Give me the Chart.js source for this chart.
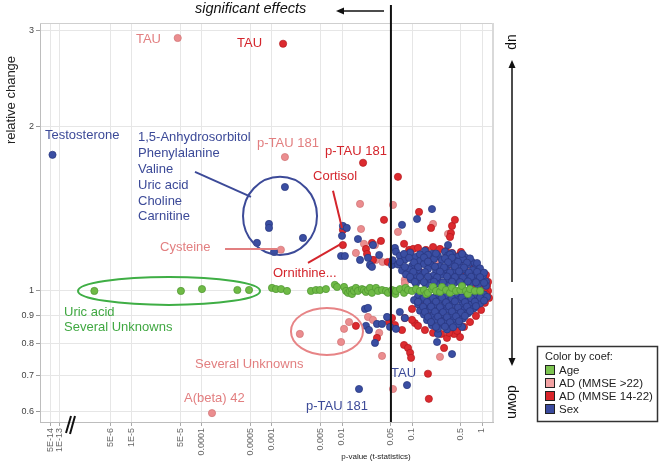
<!DOCTYPE html>
<html><head><meta charset="utf-8">
<script src="https://cdn.jsdelivr.net/npm/chart.js@4.4.1/dist/chart.umd.min.js"></script>
<style>html,body{margin:0;padding:0;background:#fff;overflow:hidden}#wrap{width:661px;height:465px;position:relative}</style>
</head><body><div id="wrap"><canvas id="c" width="661" height="465"></canvas></div>
<script>
// ---------- data ----------
const xTickValues = [5e-14,1e-13,5e-6,1e-5,5e-5,1e-4,5e-4,1e-3,5e-3,0.01,0.05,0.1,0.5,1];
const xTickLabels = ['5E-14','1E-13','5E-6','1E-5','5E-5','0.0001','0.0005','0.001','0.005','0.01','0.05','0.1','0.5','1'];
const yTickValues = [0.6,0.7,0.8,0.9,1,2,3];
const seriesNames = ['Age','AD (MMSE >22)','AD (MMSE 14-22)','Sex'];

// [p-value, relative change]
const agePoints = [
[2.9e-6,1.0],[5.0e-5,1.0],[1.0e-4,1.008],[3.2e-4,1.004],[4.7e-4,1.004],[1.0e-3,1.013],[1.14e-3,1.008],[1.35e-3,1.008],[1.64e-3,1.0],[3.6e-3,1.0],[4.25e-3,1.004],[4.85e-3,1.004],[5.9e-3,1.008],[7.9e-3,1.026],[8.5e-3,1.017],[0.0107,1.017],[0.0114,1.0],[0.0122,0.992],[0.013,1.0],[0.0139,1.004],[0.0139,0.987],[0.0148,1.0],[0.0158,1.013],[0.0169,1.0],[0.0193,1.008],[0.0206,1.004],[0.022,0.996],[0.0235,1.004],[0.0251,1.013],[0.0268,0.992],[0.0306,1.013],[0.0327,1.0],[0.0373,1.004],[0.0425,1.0],[0.0454,0.992],[0.0518,1.004],[0.058,0.987],[0.059,1.0],[0.0674,1.008],[0.0769,0.992],[0.081,1.013],[0.0877,1.004],[0.1,1.0],[0.114,1.008],[0.13,1.0],[0.148,1.004],[0.16,0.987],[0.169,0.992],[0.193,1.008],[0.2,1.017],[0.22,1.0],[0.251,0.996],[0.268,1.017],[0.306,1.004],[0.349,0.992],[0.373,1.013],[0.425,1.0],[0.49,1.004],[0.518,1.021],[0.59,1.0],[0.63,0.987],[0.674,1.008],[0.79,1.0],[0.94,1.0]
];
const adMildPoints = [
[4.5e-5,2.91],[0.00153,1.76],[0.00134,1.19],[1.39e-4,0.597],
[0.0025,0.834],[0.0107,0.852],[0.0126,0.877],[0.0097,0.806],
[0.0181,1.444],[0.0535,1.438],[0.0187,1.299],[0.063,1.283],[0.20,1.327],[0.327,1.272],[0.0158,1.174],[0.0206,1.22],[0.0296,1.214],[0.0306,1.14],[0.0235,0.896],[0.0277,0.885],[0.034,0.838],[0.0373,0.76],[0.0535,0.661],[0.251,0.757],
[0.153,1.155],[0.22,1.13],[0.338,1.116],[0.59,1.093],[0.82,1.057],[0.936,0.963],[0.72,0.923],[0.485,0.885],[0.296,0.866],[0.181,0.892],[0.134,0.943],[0.079,1.048],[0.11,1.13],[0.454,1.13],[1.0,1.017],[0.038,1.13],[0.079,1.034],
[0.181,1.164],[0.535,1.102],[0.251,0.892],[0.674,0.939]
];
const adModPoints = [
[1.44e-3,2.84],[0.02,1.718],[0.0103,1.294],[0.0103,1.214],
[0.0158,0.863],[0.022,1.194],[0.0228,1.169],[0.0277,1.14],[0.036,1.235],[0.0268,1.225],[0.047,0.877],[0.0316,0.82],[0.045,1.13],
[0.063,1.619],[0.0398,1.35],[0.126,1.396],[0.187,1.305],[0.36,1.277],[0.373,1.316],[0.41,1.35],[0.077,1.22],[0.091,1.189],[0.104,1.194],[0.349,1.256],[0.50,1.179],
[0.10,0.927],[0.079,0.892],[0.11,0.873],[0.0518,0.892],[0.057,0.866],[0.072,0.848],[0.077,0.796],[0.0877,0.786],[0.094,0.77],[0.097,0.754],[0.169,0.705],[0.174,0.634],[0.287,0.786],[0.316,0.82],[0.386,0.855],[0.44,0.841],[0.485,0.823],[0.398,0.834],
[0.094,1.179],[0.122,1.199],[0.158,1.189],[0.20,1.204],[0.251,1.194],[0.306,1.184],[0.373,1.174],[0.454,1.159],[0.553,1.145],[0.65,1.13],[0.769,1.111],[0.91,1.084],[1.03,1.057],[1.18,1.021],[1.22,1.0],[1.18,0.979],
[1.10,0.951],[0.97,0.923],[0.82,0.90],[0.674,0.877],[0.553,0.859],[0.44,0.845],[0.338,0.838],[0.26,0.834],[0.20,0.838],[0.153,0.848],[0.122,0.863],[0.10,0.885],
[0.181,1.13],[0.296,1.093],[0.485,1.039],[0.674,0.963],[0.41,0.892],[0.235,0.963],[0.306,1.15],[0.22,1.061],[0.13,1.084],[0.169,0.931],
[0.114,1.13],[0.228,1.164],[0.41,1.116],[0.59,1.07],[0.79,1.026],[0.877,0.963],[0.518,0.915],[0.327,0.877],[0.193,0.90],[0.134,0.963],[1.14,0.987],[1.10,1.013],[1.14,1.07],[1.22,1.039],[1.26,0.971]
];
const sexPoints = [
[6e-14,1.777],[0.00153,1.551],[9.06e-4,1.327],[9.06e-4,1.305],[6.1e-4,1.225],[1.07e-3,1.179],[2.77e-3,1.251],[0.0175,0.661],[0.0848,0.672],
[0.0103,1.316],[0.0117,1.305],[0.010,1.262],[0.0097,1.159],[0.011,1.159],[0.0169,1.245],[0.0181,1.14],[0.0235,1.15],[0.0251,1.116],[0.0268,1.107],[0.034,1.164],[0.0277,1.214],[0.0213,0.927],[0.0235,0.931],[0.022,0.863],[0.0243,0.848],[0.0316,0.870],[0.0373,0.870],[0.044,0.896],[0.0296,0.803],[0.072,1.322],[0.118,1.355],[0.193,1.413],[0.327,1.214],[0.535,1.164],[0.057,1.199],[0.0518,1.116],[0.228,0.806],[0.235,0.834],[0.373,0.766],[0.518,0.859],[0.067,0.915],[0.0485,0.859],[0.059,0.852],[0.079,0.892],
[0.059,1.18],[0.094,1.175],[0.153,1.185],[0.193,1.17],[0.296,1.18],[0.373,1.172],
[0.067,1.16],[0.114,1.155],[0.169,1.165],[0.235,1.158],[0.327,1.162],[0.454,1.155],[0.59,1.15],
[0.053,1.138],[0.079,1.142],[0.13,1.135],[0.206,1.145],[0.268,1.14],[0.41,1.136],[0.535,1.143],[0.72,1.13],
[0.063,1.118],[0.10,1.112],[0.148,1.12],[0.187,1.115],[0.251,1.11],[0.349,1.12],[0.485,1.113],[0.63,1.118],[0.82,1.105],
[0.072,1.09],[0.091,1.096],[0.122,1.092],[0.169,1.097],[0.22,1.09],[0.306,1.094],[0.398,1.089],[0.553,1.095],[0.74,1.092],[0.936,1.085],
[0.082,1.072],[0.11,1.068],[0.144,1.073],[0.20,1.066],[0.268,1.071],[0.36,1.069],[0.47,1.074],[0.61,1.067],[0.82,1.07],[1.03,1.065],
[0.097,1.05],[0.13,1.046],[0.181,1.049],[0.235,1.045],[0.327,1.05],[0.425,1.047],[0.57,1.044],[0.72,1.05],[0.936,1.046],[1.14,1.04],
[0.114,1.032],[0.158,1.028],[0.22,1.031],[0.296,1.027],[0.398,1.033],[0.518,1.029],[0.674,1.031],[0.877,1.026],[1.14,1.022],
[0.077,1.169],[0.13,1.167],[0.22,1.171],[0.349,1.166],[0.518,1.169],
[0.091,1.15],[0.148,1.152],[0.296,1.148],[0.373,1.151],[0.674,1.147],
[0.067,1.13],[0.107,1.128],[0.169,1.132],[0.327,1.129],[0.454,1.131],[0.61,1.127],[0.85,1.125],
[0.079,1.107],[0.122,1.106],[0.213,1.108],[0.287,1.105],[0.41,1.109],[0.553,1.104],[0.936,1.1],
[0.104,1.084],[0.153,1.083],[0.251,1.085],[0.349,1.082],[0.47,1.086],[0.65,1.081],[0.85,1.084],[1.07,1.08],
[0.094,1.061],[0.13,1.06],[0.169,1.062],[0.228,1.059],[0.316,1.063],[0.41,1.06],[0.535,1.058],[0.70,1.062],[0.936,1.06],
[0.11,1.039],[0.148,1.038],[0.206,1.04],[0.277,1.037],[0.373,1.04],[0.485,1.038],[0.63,1.041],[0.82,1.037],[1.07,1.035],
[0.122,0.978],[0.169,0.981],[0.22,0.977],[0.306,0.98],[0.44,0.976],[0.59,0.98],[0.79,0.977],[1.07,0.985],
[0.107,0.962],[0.139,0.965],[0.187,0.96],[0.251,0.964],[0.349,0.961],[0.485,0.966],[0.674,0.96],[0.91,0.964],[1.18,0.975],
[0.122,0.945],[0.164,0.94],[0.213,0.944],[0.287,0.941],[0.386,0.946],[0.518,0.942],[0.70,0.944],[0.936,0.948],
[0.13,0.92],[0.181,0.925],[0.243,0.921],[0.316,0.924],[0.425,0.92],[0.57,0.926],[0.769,0.93],
[0.148,0.905],[0.20,0.902],[0.268,0.906],[0.36,0.901],[0.485,0.905],[0.63,0.91],
[0.164,0.884],[0.22,0.887],[0.296,0.883],[0.398,0.886],[0.535,0.89],
[0.193,0.865],[0.26,0.868],[0.349,0.864],[0.454,0.87],
[0.235,0.853],[0.316,0.85],
[0.148,0.971],[0.20,0.97],[0.268,0.972],[0.373,0.969],[0.518,0.973],[0.70,0.97],[0.936,0.972],
[0.122,0.955],[0.164,0.954],[0.22,0.956],[0.306,0.953],[0.41,0.957],[0.57,0.954],[0.79,0.956],[1.07,0.96],
[0.144,0.935],[0.187,0.936],[0.251,0.934],[0.338,0.937],[0.454,0.933],[0.61,0.936],[0.82,0.938],
[0.153,0.915],[0.213,0.916],[0.277,0.914],[0.373,0.917],[0.50,0.913],[0.674,0.918],
[0.169,0.896],[0.235,0.897],[0.316,0.895],[0.425,0.898],[0.57,0.9],
[0.187,0.877],[0.26,0.878],[0.349,0.876],[0.47,0.88],
[0.22,0.859],[0.296,0.86],[0.386,0.858]
];

// ---------- styling / helpers ----------
const FONT = '"Liberation Sans", Arial, sans-serif';
Chart.defaults.font.family = FONT;
const C = {
  age:  {fill:'#6fba46', edge:'#4d9530', text:'#40a842', key:'#7cc350'},
  mild: {fill:'#eb8d8f', edge:'#d07274', text:'#e27f80', key:'#f2a2a3'},
  mod:  {fill:'#dc2a2f', edge:'#b3181d', text:'#d4252c', key:'#d9242a'},
  sex:  {fill:'#3a4ea2', edge:'#26357c', text:'#3c4a98', key:'#3a4a9e'}
};
// position transform for the broken log axis
function tx(p){ const l = Math.log10(p); return l < -12 ? -6.04 + (l + 13) * 0.43 : l; }
function toXY(arr){ return arr.map(([p, r]) => ({x: tx(p), y: r})); }

function ds(label, pts, c, order){
  return {label, data: toXY(pts), backgroundColor: c.fill, borderColor: c.edge,
    borderWidth: 0.7, pointRadius: 3.6, pointHoverRadius: 3.6, order};
}

// annotation anchors in axis units (t = log10 p, r = relative change)
const notes = [
  {lines:['TAU'], c:C.mild.text, t:-4.943, r:2.888},
  {lines:['TAU'], c:C.mod.text, t:-3.5, r:2.84},
  {lines:['Testosterone'], c:C.sex.text, t:-6.243, r:1.925},
  {lines:['1,5-Anhydrosorbitol','Phenylalanine','Valine','Uric acid','Choline','Carnitine'], c:C.sex.text, t:-4.914, r:1.909},
  {lines:['p-TAU 181'], c:C.mild.text, t:-3.214, r:1.862},
  {lines:['p-TAU 181'], c:C.mod.text, t:-2.243, r:1.806},
  {lines:['Cortisol'], c:C.mod.text, t:-2.414, r:1.619},
  {lines:['Cysteine'], c:C.mild.text, t:-4.6, r:1.204},
  {lines:['Ornithine...'], c:C.mod.text, t:-2.986, r:1.079},
  {lines:['Uric acid','Several Unknowns'], c:C.age.text, t:-5.971, r:0.915},
  {lines:['Several Unknowns'], c:C.mild.text, t:-4.1, r:0.732},
  {lines:['A(beta) 42'], c:C.mild.text, t:-4.257, r:0.634},
  {lines:['TAU'], c:C.sex.text, t:-1.3, r:0.707},
  {lines:['p-TAU 181'], c:C.sex.text, t:-2.514, r:0.615}
];
const leaders = [
  {c:C.sex.text, t1:-4.1, r1:1.653, t2:-3.3, r2:1.488},
  {c:C.mod.text, t1:-2.129, r1:1.526, t2:-2.0, r2:1.305},
  {c:C.mild.text, t1:-3.671, r1:1.194, t2:-2.929, r2:1.194},
  {c:C.mod.text, t1:-2.486, r1:1.126, t2:-2.014, r2:1.22}
];
const rings = [
  {c:C.sex.text, t1:-3.414, t2:-2.357, r1:1.619, r2:1.164},
  {c:'#3fae45', t1:-5.771, t2:-3.171, r1:1.061, r2:0.9426},
  {c:'#e78486', t1:-2.729, t2:-1.7, r1:0.931, r2:0.763}
];

function arrow(ctx, x1, y1, x2, y2, head, half){
  const a = Math.atan2(y2 - y1, x2 - x1);
  const bx = x2 - head * Math.cos(a), by = y2 - head * Math.sin(a);
  ctx.beginPath(); ctx.moveTo(x1, y1); ctx.lineTo(bx, by); ctx.stroke();
  ctx.beginPath(); ctx.moveTo(x2, y2);
  ctx.lineTo(bx + half * Math.sin(a), by - half * Math.cos(a));
  ctx.lineTo(bx - half * Math.sin(a), by + half * Math.cos(a));
  ctx.closePath(); ctx.fill();
}

const decor = {
  id: 'decor',
  beforeDatasetsDraw(chart){
    const {ctx, chartArea: a} = chart;
    ctx.save();
    ctx.strokeStyle = '#cfcfcf'; ctx.lineWidth = 1;
    ctx.beginPath(); ctx.moveTo(a.left, a.top + 0.5); ctx.lineTo(a.right, a.top + 0.5); ctx.stroke();
    ctx.strokeStyle = '#d9d9d9'; ctx.lineWidth = 2;
    ctx.beginPath(); ctx.moveTo(a.right, a.top); ctx.lineTo(a.right, a.bottom); ctx.stroke();
    ctx.restore();
  },
  afterDatasetsDraw(chart){
    const {ctx, chartArea: a, scales: {x, y}} = chart;
    const X = t => x.getPixelForValue(t), Y = r => y.getPixelForValue(r);
    ctx.save();
    rings.forEach(e => {
      const x1 = X(e.t1), x2 = X(e.t2), y1 = Y(e.r1), y2 = Y(e.r2);
      ctx.strokeStyle = e.c; ctx.lineWidth = 2;
      ctx.beginPath();
      ctx.ellipse((x1 + x2) / 2, (y1 + y2) / 2, Math.abs(x2 - x1) / 2, Math.abs(y2 - y1) / 2, 0, 0, Math.PI * 2);
      ctx.stroke();
    });
    leaders.forEach(l => {
      ctx.strokeStyle = l.c; ctx.lineWidth = 2;
      ctx.beginPath(); ctx.moveTo(X(l.t1), Y(l.r1)); ctx.lineTo(X(l.t2), Y(l.r2)); ctx.stroke();
    });
    ctx.font = '13px ' + FONT; ctx.textBaseline = 'middle'; ctx.textAlign = 'left';
    notes.forEach(n => {
      ctx.fillStyle = n.c;
      n.lines.forEach((s, i) => ctx.fillText(s, X(n.t), Y(n.r) + i * 15.8));
    });
    const xs = X(tx(0.05));
    ctx.strokeStyle = '#111'; ctx.lineWidth = 2;
    ctx.beginPath(); ctx.moveTo(xs, 5); ctx.lineTo(xs, a.bottom); ctx.stroke();
    ctx.restore();
  },
  afterDraw(chart){
    const {ctx} = chart;
    ctx.save();
    ctx.strokeStyle = '#111'; ctx.lineWidth = 2;
    ctx.beginPath(); ctx.moveTo(66, 433); ctx.lineTo(71, 416); ctx.stroke();
    ctx.beginPath(); ctx.moveTo(70, 434); ctx.lineTo(75, 416); ctx.stroke();
    ctx.fillStyle = '#222';
    ctx.font = '8px ' + FONT; ctx.textAlign = 'center'; ctx.textBaseline = 'middle';
    ctx.fillText('p-value (t-statistics)', 376, 457);
    ctx.save(); ctx.translate(11, 100); ctx.rotate(-Math.PI / 2);
    ctx.font = '13px ' + FONT; ctx.fillText('relative change', 0, 0); ctx.restore();
    ctx.font = 'italic 14.5px ' + FONT; ctx.textAlign = 'left'; ctx.textBaseline = 'alphabetic';
    ctx.fillStyle = '#111'; ctx.fillText('significant effects', 195, 13);
    ctx.strokeStyle = '#111'; ctx.lineWidth = 1.5;
    arrow(ctx, 384, 11, 336, 11, 8, 3.5);
    arrow(ctx, 512, 282, 512, 60, 8, 3.5);
    arrow(ctx, 512, 298, 512, 366, 8, 3.5);
    ctx.font = '14px ' + FONT; ctx.textAlign = 'center'; ctx.textBaseline = 'middle';
    [['up', 42], ['down', 402]].forEach(([s, yy]) => {
      ctx.save(); ctx.translate(512, yy); ctx.rotate(Math.PI / 2); ctx.fillText(s, 0, 0); ctx.restore();
    });
    ctx.strokeStyle = '#333'; ctx.lineWidth = 1.5;
    ctx.fillStyle = '#fff'; ctx.fillRect(537, 346, 121, 76);
    ctx.strokeRect(537.5, 346.5, 120, 75);
    ctx.font = '11px ' + FONT; ctx.textAlign = 'left'; ctx.textBaseline = 'middle';
    ctx.fillStyle = '#222'; ctx.fillText('Color by coef:', 545, 357);
    const keys = [C.age.key, C.mild.key, C.mod.key, C.sex.key];
    seriesNames.forEach((s, i) => {
      const yy = 370 + i * 13;
      ctx.fillStyle = keys[i]; ctx.fillRect(545.5, yy - 4.5, 9, 9);
      ctx.strokeStyle = '#222'; ctx.lineWidth = 1; ctx.strokeRect(545.5, yy - 4.5, 9, 9);
      ctx.fillStyle = '#222'; ctx.font = '11.5px ' + FONT; ctx.fillText(s, 559, yy + 0.5);
    });
    ctx.restore();
  }
};

new Chart(document.getElementById('c'), {
  type: 'scatter',
  data: { datasets: [
    ds(seriesNames[0], agePoints, C.age, 0),
    ds(seriesNames[3], sexPoints, C.sex, 1),
    ds(seriesNames[2], adModPoints, C.mod, 2),
    ds(seriesNames[1], adMildPoints, C.mild, 3)
  ]},
  options: {
    responsive: false, animation: false, devicePixelRatio: 1,
    layout: { padding: { left: 0, right: 168, top: 23, bottom: 0 } },
    plugins: { legend: { display: false }, tooltip: { enabled: false } },
    events: [],
    scales: {
      x: {
        type: 'linear', min: -6.314, max: 0.157,
        afterBuildTicks: s => { s.ticks = xTickValues.map(v => ({value: tx(v)})); },
        afterFit: s => { s.height = 43; },
        ticks: { autoSkip: false, minRotation: 90, maxRotation: 90, color: '#666',
          font: { size: 9 }, padding: 2, callback: (v, i) => xTickLabels[i] },
        grid: { color: '#e6e6e6', tickLength: 4, tickColor: '#aaa' },
        border: { display: true, color: '#bdbdbd' }
      },
      y: {
        type: 'logarithmic', min: 0.575, max: 3.1,
        afterBuildTicks: s => { s.ticks = yTickValues.map(v => ({value: v})); },
        afterFit: s => { s.width = 40; },
        ticks: { color: '#444', font: { size: 9 }, padding: 2, callback: v => String(v) },
        grid: { color: '#e6e6e6', tickLength: 4, tickColor: '#999' },
        border: { display: true, color: '#bdbdbd' }
      }
    }
  },
  plugins: [decor]
});
</script>
</body></html>
